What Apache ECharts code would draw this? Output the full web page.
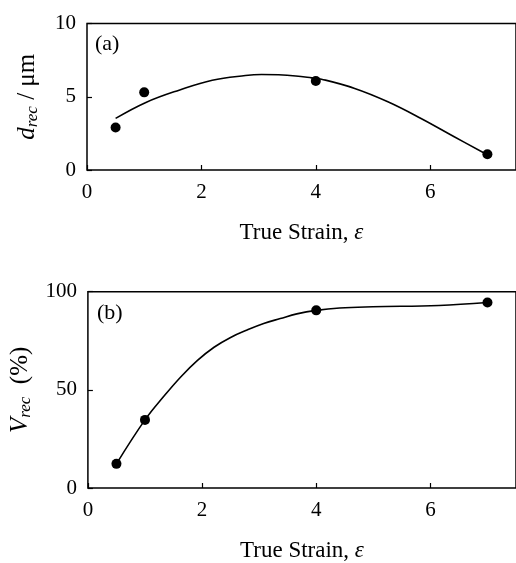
<!DOCTYPE html>
<html>
<head>
<meta charset="utf-8">
<script src="https://cdn.jsdelivr.net/npm/echarts@6/dist/echarts.min.js"></script>
<style>
  html, body { margin: 0; padding: 0; background: #fff; }
  #chart { width: 516px; height: 563px; }
</style>
</head>
<body>
<div id="chart"></div>
<script>
// measured points, panel (a): recrystallized grain size
const strainPts = [0.5, 1, 4, 7];
const dRec = [2.9, 5.3, 6.07, 1.07];
// fitted curve
const dFitX = [0.5, 1.03, 1.61, 2.19, 2.77, 3.05, 3.35, 3.65, 3.93, 4.1, 4.68, 5.26, 5.84, 6.42, 6.95];
const dFitY = [3.52, 4.61, 5.45, 6.13, 6.45, 6.52, 6.5, 6.42, 6.29, 6.2, 5.57, 4.66, 3.52, 2.27, 1.14];

// panel (b): recrystallized volume fraction
const vRec = [12.3, 34.7, 90.5, 94.5];
const vFitX = [0.5, 1, 1.33, 1.63, 1.92, 2.21, 2.5, 2.79, 3.08, 3.37, 3.66, 4, 4.41, 4.99, 6.15, 7];
const vFitY = [12.3, 34.7, 46.7, 56.7, 65, 71.7, 76.7, 80.5, 83.8, 86.3, 88.7, 90.5, 91.7, 92.3, 93, 94.5];

const xTicks = { min: 0, max: 7.5, interval: 2 };
const font = "'Liberation Serif', 'Times New Roman', serif";

const zip = (xs, ys) => xs.map((x, i) => [x, ys[i]]);

const chart = echarts.init(document.getElementById("chart"));

function xAxis(gridIndex) {
  return {
    type: "value",
    gridIndex: gridIndex,
    min: xTicks.min,
    max: xTicks.max,
    interval: xTicks.interval,
    axisLine: { show: false },
    axisTick: { inside: true, length: 5, lineStyle: { color: "#000", width: 1.2 } },
    splitLine: { show: false },
    axisLabel: {
      showMaxLabel: false,
      margin: 12,
      color: "#000",
      fontFamily: font,
      fontSize: 21
    },
    name: "True Strain, {i|ε}",
    nameLocation: "middle",
    nameGap: 51,
    nameTextStyle: {
      color: "#000",
      fontFamily: font,
      fontSize: 23,
      rich: { i: { fontFamily: font, fontSize: 23, fontStyle: "italic", color: "#000" } }
    }
  };
}

function yAxis(gridIndex, max, interval, name, gap) {
  return {
    type: "value",
    gridIndex: gridIndex,
    min: 0,
    max: max,
    interval: interval,
    axisLine: { show: false },
    axisTick: { inside: true, length: 5, lineStyle: { color: "#000", width: 1.2 } },
    splitLine: { show: false },
    axisLabel: {
      margin: 11,
      color: "#000",
      fontFamily: font,
      fontSize: 21
    },
    name: name,
    nameLocation: "middle",
    nameGap: gap,
    nameTextStyle: {
      color: "#000",
      fontFamily: font,
      fontSize: 25,
      rich: {
        it: { fontFamily: font, fontSize: 25, fontStyle: "italic", color: "#000", lineHeight: 28 },
        sub: { fontFamily: font, fontSize: 17, fontStyle: "italic", color: "#000", lineHeight: 17, verticalAlign: "bottom" },
        n: { fontFamily: font, fontSize: 25, color: "#000", lineHeight: 28 }
      }
    }
  };
}

const option = {
  animation: false,
  backgroundColor: "#fff",
  grid: [
    { left: 87, top: 23.5, width: 430, height: 146.5, show: true, borderColor: "#000", borderWidth: 1.5, backgroundColor: "transparent" },
    { left: 87, top: 291.7, width: 430, height: 200, show: true, borderColor: "#000", borderWidth: 1.5, backgroundColor: "transparent" }
  ],
  xAxis: [xAxis(0), xAxis(1)],
  yAxis: [
    yAxis(0, 10, 5, "{it|d}{sub|rec}{n| / μm}", 46),
    yAxis(1, 100, 50, "{it|V}{sub|rec}{n|  (%)}", 46)
  ],
  graphic: [
    { type: "text", left: 95, top: 33, style: { text: "(a)", font: "22px " + font, fill: "#000" } },
    { type: "text", left: 97, top: 302, style: { text: "(b)", font: "22px " + font, fill: "#000" } }
  ],
  series: [
    {
      type: "line", xAxisIndex: 0, yAxisIndex: 0,
      data: zip(dFitX, dFitY), smooth: 0.4, showSymbol: false,
      lineStyle: { color: "#000", width: 1.6 }
    },
    {
      type: "scatter", xAxisIndex: 0, yAxisIndex: 0,
      data: zip(strainPts, dRec), symbolSize: 10,
      itemStyle: { color: "#000", opacity: 1 }
    },
    {
      type: "line", xAxisIndex: 1, yAxisIndex: 1,
      data: zip(vFitX, vFitY), smooth: 0.4, showSymbol: false,
      lineStyle: { color: "#000", width: 1.6 }
    },
    {
      type: "scatter", xAxisIndex: 1, yAxisIndex: 1,
      data: zip(strainPts, vRec), symbolSize: 10,
      itemStyle: { color: "#000", opacity: 1 }
    }
  ]
};

chart.setOption(option);
</script>
</body>
</html>
